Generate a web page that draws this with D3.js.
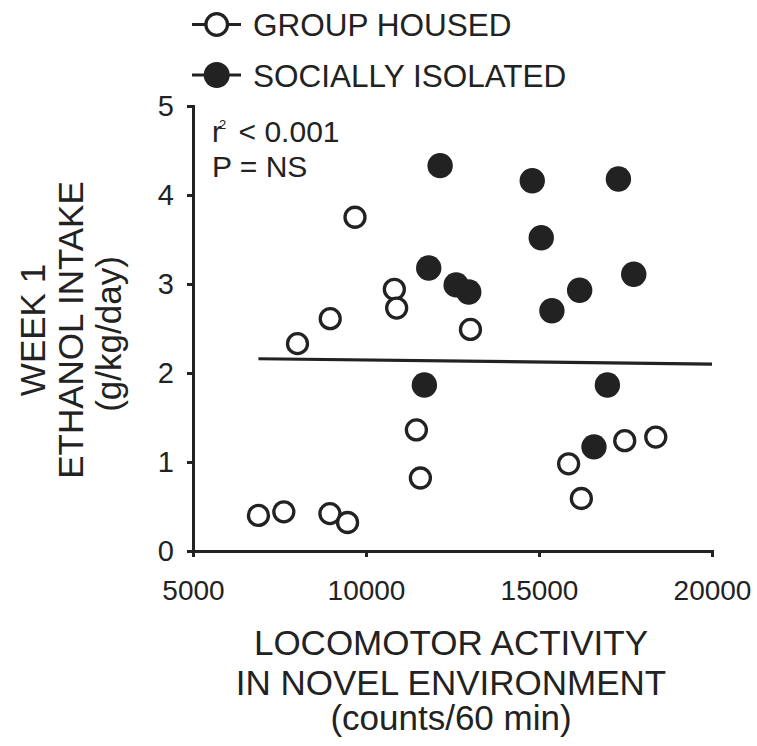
<!DOCTYPE html>
<html>
<head>
<meta charset="utf-8">
<script src="https://cdn.jsdelivr.net/npm/d3@7"></script>
<style>
  html, body { margin: 0; padding: 0; background: #fff; }
  svg { display: block; font-family: "Liberation Sans", Arial, Helvetica, sans-serif; }
</style>
</head>
<body>
<svg id="chart" width="757" height="746"></svg>
<script>
// Group-housed animals: locomotor counts (x) and week-1 ethanol intake (y)
const groupX = [6891, 7625, 8957, 9467, 8020, 8966, 9682, 10819, 10886, 11456, 11572, 13019, 15856, 16224, 17478, 18375];
const groupY = [0.40, 0.44, 0.42, 0.32, 2.33, 2.61, 3.75, 2.94, 2.73, 1.36, 0.82, 2.49, 0.98, 0.59, 1.24, 1.28];

// Socially isolated animals
const isoX = [12142, 11813, 12605, 12970, 11687, 14805, 15065, 15373, 16175, 17295, 17738, 16976, 16589];
const isoY = [4.33, 3.18, 2.99, 2.91, 1.865, 4.16, 3.52, 2.70, 2.93, 4.18, 3.11, 1.865, 1.17];

// Regression line end points (x, y)
const fitX = [6891, 20000];
const fitY = [2.16, 2.10];

const xTicks = [5000, 10000, 15000, 20000];
const yTicks = [0, 1, 2, 3, 4, 5];

const legendLabels = ["GROUP HOUSED", "SOCIALLY ISOLATED"];
const yTitleLines = ["WEEK 1", "ETHANOL INTAKE", "(g/kg/day)"];
const xTitleLines = ["LOCOMOTOR ACTIVITY", "IN NOVEL ENVIRONMENT", "(counts/60 min)"];

const ink = "#222";
const svg = d3.select("#chart");

const x = d3.scaleLinear().domain([5000, 20000]).range([193, 712]);
const y = d3.scaleLinear().domain([0, 5]).range([551, 106]);

// Axes
const xAxis = svg.append("g")
  .attr("transform", `translate(0,${y(0)})`)
  .call(d3.axisBottom(x).tickValues(xTicks).tickFormat(d3.format("d"))
    .tickSize(6).tickSizeOuter(6).tickPadding(23));
const yAxis = svg.append("g")
  .attr("transform", `translate(${x(5000)},0)`)
  .call(d3.axisLeft(y).tickValues(yTicks).tickFormat(d3.format("d"))
    .tickSize(6).tickSizeOuter(6).tickPadding(13));

[xAxis, yAxis].forEach(a => {
  a.attr("font-family", null).attr("font-size", null);
  a.select(".domain").attr("stroke", ink).attr("stroke-width", 3);
  a.selectAll(".tick line").attr("stroke", ink).attr("stroke-width", 3);
  a.selectAll(".tick text").attr("fill", ink);
});
xAxis.selectAll(".tick text").style("font-size", "28px");
yAxis.selectAll(".tick text").style("font-size", "29px");

// Regression line
svg.append("line")
  .attr("x1", x(fitX[0])).attr("y1", y(fitY[0]))
  .attr("x2", x(fitX[1])).attr("y2", y(fitY[1]))
  .attr("stroke", ink).attr("stroke-width", 3.2);

// Data points
svg.append("g").selectAll("circle")
  .data(d3.zip(isoX, isoY))
  .join("circle")
  .attr("cx", d => x(d[0])).attr("cy", d => y(d[1]))
  .attr("r", 12.7).attr("fill", ink);

svg.append("g").selectAll("circle")
  .data(d3.zip(groupX, groupY))
  .join("circle")
  .attr("cx", d => x(d[0])).attr("cy", d => y(d[1]))
  .attr("r", 10).attr("fill", "#fff").attr("stroke", ink).attr("stroke-width", 3.3);

// Statistics note
const note = svg.append("g").attr("fill", ink).style("font-size", "30px");
const r2 = note.append("text").attr("x", 212).attr("y", 142);
r2.append("tspan").text("r");
r2.append("tspan").attr("dx", -3).attr("dy", -13).style("font-size", "13px").text("2");
r2.append("tspan").attr("dx", 4).attr("dy", 13).text(" < 0.001");
note.append("text").attr("x", 212).attr("y", 177).text("P = NS");

// Legend
const legend = svg.append("g");
legendLabels.forEach((label, i) => {
  const cy = 24.5 + i * 50.5;
  const row = legend.append("g").attr("transform", `translate(0,${cy})`);
  row.append("line").attr("x1", 192).attr("x2", 241).attr("y1", 0).attr("y2", 0)
    .attr("stroke", ink).attr("stroke-width", 3);
  if (i === 0) {
    row.append("circle").attr("cx", 216.7).attr("cy", 0).attr("r", 10.8)
      .attr("fill", "#fff").attr("stroke", ink).attr("stroke-width", 3.3);
  } else {
    row.append("circle").attr("cx", 216.7).attr("cy", 0).attr("r", 13).attr("fill", ink);
  }
  row.append("text").attr("x", 253).attr("y", 11.5).attr("fill", ink)
    .style("font-size", "31.5px").text(label);
});

// Y axis title (rotated)
yTitleLines.forEach((line, i) => {
  svg.append("text")
    .attr("transform", `translate(${45 + i * 38},${i === 2 ? 334 : 330}) rotate(-90)`)
    .attr("text-anchor", "middle").attr("fill", ink)
    .style("font-size", "35px").text(line);
});

// X axis title
xTitleLines.forEach((line, i) => {
  svg.append("text")
    .attr("x", 451).attr("y", [655, 695, 730][i])
    .attr("text-anchor", "middle").attr("fill", ink)
    .style("font-size", "35px").text(line);
});
</script>
</body>
</html>
